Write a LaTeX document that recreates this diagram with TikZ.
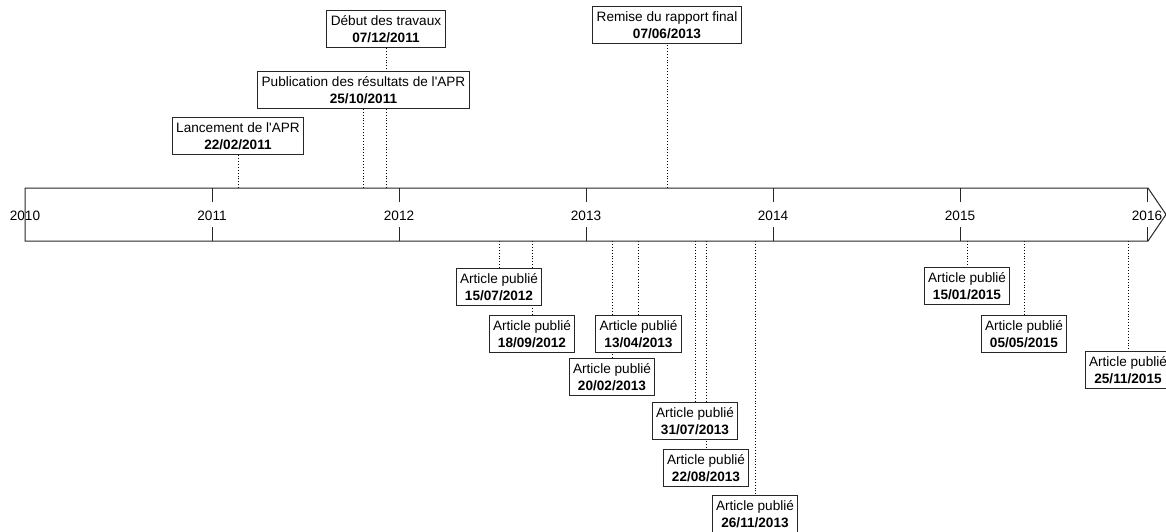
\documentclass[tikz,border=0pt]{standalone}
\usepackage{fontspec}
\setmainfont{Liberation Sans}
\usepackage{tikz}
\usetikzlibrary{backgrounds}

\begin{document}
\begin{tikzpicture}[x=1pt,y=-1pt,
 font=\fontsize{13.6}{17}\selectfont,
 event/.style={draw=black!85,line width=1pt,fill=white,align=center,anchor=north,minimum height=37pt,inner xsep=4pt,inner ysep=1pt},
 link/.style={dotted,line width=0.9pt},
 year/.style={anchor=base,inner sep=0pt},
 axis/.style={draw=black!85,line width=1pt}]
\useasboundingbox (0,0) rectangle (1166,531);
\clip (0,0) rectangle (1166,531);
% frise
\draw[axis] (25,188) -- (1148,188) -- (1166,214.5) -- (1148,241) -- (25,241) -- cycle;
\foreach \i in {0,...,6} {
  \node[year] (y\i) at (25+187*\i,220) {\the\numexpr2010+\i\relax};
}
\foreach \i in {1,...,6} {
  \draw[axis] (25+187*\i,188) -- ++(0,14);
  \draw[axis] (25+187*\i,241) -- ++(0,-14);
}
% dates sur la frise
\coordinate (t1) at (238,188); \coordinate (t2) at (363.5,188);
\coordinate (t3) at (386,188); \coordinate (t4) at (667,188);
\coordinate (b1) at (499,241); \coordinate (b2) at (532,241);
\coordinate (b3) at (612,241); \coordinate (b4) at (638.5,241);
\coordinate (b5) at (695,241); \coordinate (b6) at (706,241);
\coordinate (b7) at (755,241); \coordinate (b8) at (967,241);
\coordinate (b9) at (1024,241); \coordinate (b10) at (1128,241);
% evenements au-dessus
\node[event] (apr) at (238,117) {Lancement de l\textquotesingle APR\\\textbf{22/02/2011}};
\node[event] (res) at (363.5,71) {Publication des résultats de l\textquotesingle APR\\\textbf{25/10/2011}};
\node[event] (deb) at (386,10) {Début des travaux\\\textbf{07/12/2011}};
\node[event] (rap) at (667,6) {Remise du rapport final\\\textbf{07/06/2013}};
% articles en dessous
\node[event] (a1) at (499,268) {Article publié\\\textbf{15/07/2012}};
\node[event] (a2) at (532,315) {Article publié\\\textbf{18/09/2012}};
\node[event] (a3) at (612,358) {Article publié\\\textbf{20/02/2013}};
\node[event] (a4) at (638.5,315) {Article publié\\\textbf{13/04/2013}};
\node[event] (a5) at (695,402) {Article publié\\\textbf{31/07/2013}};
\node[event] (a6) at (706,449) {Article publié\\\textbf{22/08/2013}};
\node[event] (a7) at (755,495) {Article publié\\\textbf{26/11/2013}};
\node[event] (a8) at (967,267) {Article publié\\\textbf{15/01/2015}};
\node[event] (a9) at (1024,315) {Article publié\\\textbf{05/05/2015}};
\node[event] (a10) at (1128,351) {Article publié\\\textbf{25/11/2015}};
\begin{pgfonlayer}{background}
\draw[link] (t1) -- (apr.south); \draw[link] (t2) -- (res.south);
\draw[link] (t3) -- (deb.south); \draw[link] (t4) -- (rap.south);
\foreach \k in {1,...,10} \draw[link] (b\k) -- (a\k.north);
\end{pgfonlayer}
\end{tikzpicture}
\end{document}
